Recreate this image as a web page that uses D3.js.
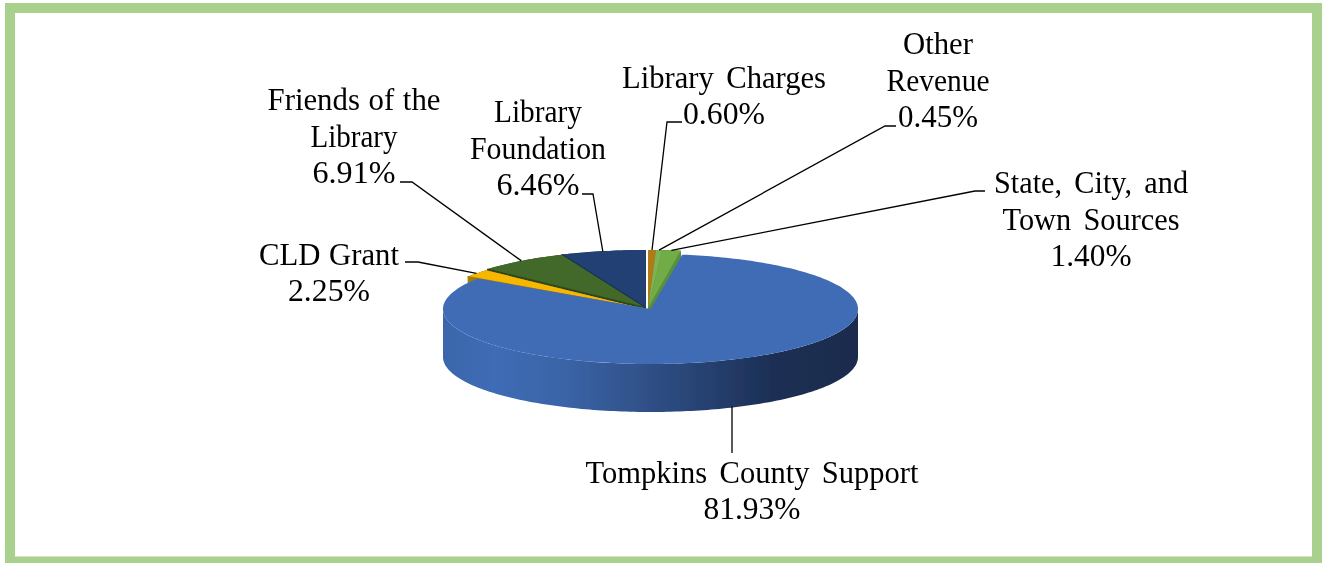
<!DOCTYPE html>
<html><head><meta charset="utf-8">
<style>html,body{margin:0;padding:0;background:#fff}svg{display:block}text{font-family:"Liberation Serif",serif;font-size:32px;fill:#000}</style>
<script src="https://cdn.jsdelivr.net/npm/d3@7"></script></head>
<body><svg width="1322" height="563"></svg>
<script>
// data: clockwise from 12 o'clock
const categories=["Library Charges","Other Revenue","State, City, and Town Sources","Tompkins County Support","CLD Grant","Friends of the Library","Library Foundation"];
const shares=[0.60,0.45,1.40,81.93,2.25,6.91,6.46];
const topColours=["#b07a14","#7db356","#70ad47","#3f6cb5","#f7b600","#43682b","#203f73"];
const sideColours=["#8a5c0a","#5a8c3a","#5a8f3a","#1b2e52","#a87c05","#2f4a1e","#172c50"];
const labelLines=[["Library Charges","0.60%"],["Other","Revenue","0.45%"],["State, City, and","Town Sources","1.40%"],["Tompkins County Support","81.93%"],["CLD Grant","2.25%"],["Friends of the","Library","6.91%"],["Library","Foundation","6.46%"]];

// layout
const geo=[{cx:648,cy:308,rx:213,ry:58},{cx:648,cy:308,rx:213,ry:58},{cx:648,cy:308,rx:213,ry:58},
           {cx:650.5,cy:309,rx:207.5,ry:55},{cx:644.7,cy:309,rx:213,ry:58},{cx:645.7,cy:308,rx:213,ry:58},{cx:645.7,cy:308,rx:213,ry:58}];
const depth=48;
const labelPos=[
 {x:724,y:88,dy:36,w:[204,82],elbow:[[682,122],[667,122]]},
 {x:938,y:54,dy:36.5,w:[70,103,80],elbow:[[896,126],[885,126]]},
 {x:1091,y:193,dy:36.5,w:[194,177,81],elbow:[[985,191],[975,191]]},
 {x:752,y:483,dy:36,w:[333,97],elbow:null,stem:[732,453]},
 {x:329,y:265,dy:36,w:[140,82],elbow:[[405,262],[418,262]]},
 {x:354,y:110,dy:36.5,w:[173,87,83],elbow:[[400,182],[412,182]]},
 {x:538,y:122,dy:36.5,w:[88,136,83],elbow:[[582,194],[593,194]]}
];

const svg=d3.select("svg");
svg.append("rect").attr("x",5).attr("y",3).attr("width",1317).attr("height",560).attr("fill","#a9d18e");
svg.append("rect").attr("x",15).attr("y",13).attr("width",1297).attr("height",543.5).attr("fill","#fff");

const defs=svg.append("defs");
const soft=defs.append("filter").attr("id","soft").attr("x","-5%").attr("y","-5%").attr("width","110%").attr("height","110%");
soft.append("feGaussianBlur").attr("stdDeviation",0.55);
const softText=defs.append("filter").attr("id","softText").attr("x","-5%").attr("y","-5%").attr("width","110%").attr("height","110%");
softText.append("feGaussianBlur").attr("stdDeviation",0.3);
const grad=defs.append("linearGradient").attr("id","sideGrad").attr("gradientUnits","userSpaceOnUse").attr("x1",443).attr("x2",858).attr("y1",0).attr("y2",0);
[[0,"#3a66ab"],[0.12,"#3f6cb5"],[0.3,"#3a63a6"],[0.5,"#2f4f86"],[0.68,"#233c69"],[0.8,"#1b2e52"],[1,"#1a2c4e"]]
  .forEach(s=>grad.append("stop").attr("offset",s[0]).attr("stop-color",s[1]));

const pie=d3.pie().sort(null).startAngle(0).endAngle(2*Math.PI).value(d=>d);
const arcs=pie(shares);
const pt=(g,a,dy=0)=>[g.cx+g.rx*Math.sin(a),g.cy-g.ry*Math.cos(a)+dy];
const rim=(g,a0,a1,dy=0)=>{const n=Math.max(2,Math.ceil((a1-a0)/0.02));return d3.range(n+1).map(i=>pt(g,a0+(a1-a0)*i/n,dy));};
const line=d3.line();

const pieG=svg.append("g").attr("filter","url(#soft)");
const drawOrder=[6,5,4,0,1,2,3];
// sides
drawOrder.forEach(i=>{
  const g=geo[i],a=arcs[i];
  if(i===3){
    const top=rim(g,Math.PI/2,3*Math.PI/2), bot=rim(g,Math.PI/2,3*Math.PI/2,depth).reverse();
    pieG.append("path").attr("d",line(top.concat(bot))+"Z").attr("fill","url(#sideGrad)");
  } else {
    const pts=[[g.cx,g.cy+depth]].concat(rim(g,a.startAngle,a.endAngle,depth));
    pieG.append("path").attr("d",line([[g.cx,g.cy],...rim(g,a.startAngle,a.endAngle)])+"Z").attr("fill",sideColours[i]);
    pieG.append("path").attr("d",line(pts)+"Z").attr("fill",sideColours[i]);
    const e=pt(g,a.endAngle),s=pt(g,a.startAngle);
    pieG.append("path").attr("d",line([e,[e[0],e[1]+depth],[s[0],s[1]+depth],s])+"Z").attr("fill",sideColours[i]);
    if(i===2){ const m=pt(g,a.endAngle,0);
      pieG.append("path").attr("d",line([[g.cx,g.cy],m,[m[0]+1,m[1]+8],[g.cx+2,g.cy+3]])+"Z").attr("fill",sideColours[i]); }
  }
});
// tops
drawOrder.forEach(i=>{
  const g=geo[i],a=arcs[i];
  pieG.append("path").attr("d",line([[g.cx,g.cy],...rim(g,a.startAngle,a.endAngle)])+"Z").attr("fill",topColours[i]);
  if(i===6||i===5||i===4){ // darker cut edge where one slice meets the next
    pieG.append("path").attr("d",line([[g.cx,g.cy],pt(g,a.startAngle)])).attr("fill","none")
      .attr("stroke",sideColours[i]).attr("stroke-width",1.6);
  }
});

// leaders and labels
const txt=svg.append("g").attr("filter","url(#softText)");
arcs.forEach((a,i)=>{
  const g=geo[i],m=(a.startAngle+a.endAngle)/2,p=labelPos[i];
  const anchor=i===3?pt(g,m,depth-1):pt(g,m);
  const pts=p.elbow?[...p.elbow,anchor]:[p.stem,[p.stem[0],anchor[1]]];
  txt.append("path").attr("d",line(pts)).attr("fill","none").attr("stroke","#000").attr("stroke-width",1.3);
  labelLines[i].forEach((t,j)=>{
    txt.append("text").attr("x",p.x).attr("y",p.y+j*p.dy).attr("text-anchor","middle")
      .attr("word-spacing",t==="Friends of the"||t==="CLD Grant"?"1px":"5px")
      .attr("textLength",p.w[j]).attr("lengthAdjust","spacingAndGlyphs").text(t);
  });
});
</script></body></html>
